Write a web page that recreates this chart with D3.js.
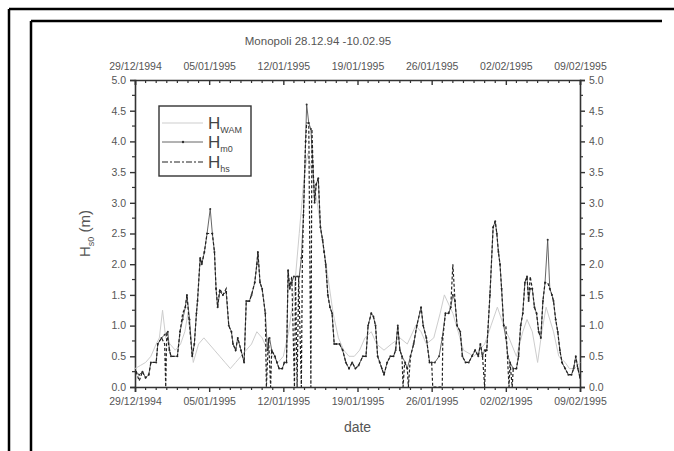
<!DOCTYPE html>
<html>
<head>
<meta charset="utf-8">
<script src="https://cdn.jsdelivr.net/npm/d3@7.9.0/dist/d3.min.js"></script>
<style>
  body { margin: 0; background: #fff; }
  svg { display: block; font-family: "Liberation Sans", Arial, sans-serif; }
</style>
</head>
<body>
<svg id="chart" width="674" height="451"></svg>
<script>
// values: [day since 29/12/1994, Hs in m]
const hm0 = [
  [0.1,0.25],[0.4,0.2],[0.7,0.25],[1.0,0.15],[1.3,0.2],[1.5,0.4],[2.0,0.4],[2.15,0.7],[2.5,0.8],[2.8,0.85],
  [3.1,0.9],[3.25,0.6],[3.4,0.5],[4.0,0.5],[4.25,0.9],[4.5,1.1],[4.75,1.3],[4.9,1.5],[5.15,1.1],[5.4,0.5],
  [5.6,0.7],[5.8,1.2],[5.9,1.4],[6.15,2.1],[6.3,2.0],[6.55,2.2],[6.8,2.5],[7.1,2.9],[7.3,2.5],[7.5,2.2],
  [7.65,1.6],[7.8,1.3],[8.0,1.55],[8.3,1.5],[8.6,1.55],[8.85,1.0],[9.1,0.9],[9.25,0.7],[9.5,0.6],[9.7,0.8],
  [10.0,0.6],[10.3,0.4],[10.5,1.4],[10.8,1.4],[11.0,1.5],[11.3,1.7],[11.5,2.0],[11.6,2.2],[11.8,1.7],[12.0,1.6],
  [12.3,1.2],[12.5,0.6],[12.7,0.8],[12.9,0.6],[13.2,0.5],[13.4,0.4],[13.6,0.3],[13.9,0.3],[14.1,0.4],[14.3,0.4],
  [14.45,1.9],[14.6,1.6],[14.8,1.7],[15.0,1.8],[15.3,1.8],[15.5,1.8],[15.7,2.1],[15.9,2.8],[16.1,4.0],[16.2,4.6],
  [16.4,4.3],[16.6,4.2],[16.8,3.6],[16.95,3.0],[17.1,3.3],[17.3,3.4],[17.5,2.6],[17.7,2.4],[17.85,2.2],[18.0,2.0],
  [18.2,1.5],[18.4,1.3],[18.6,1.2],[18.8,0.7],[19.0,0.7],[19.3,0.7],[19.6,0.6],[19.9,0.4],[20.2,0.3],[20.5,0.4],
  [20.8,0.3],[21.1,0.35],[21.5,0.5],[21.8,0.5],[22.0,1.0],[22.3,1.2],[22.5,1.15],[22.7,1.0],[22.9,0.5],[23.1,0.4],
  [23.3,0.3],[23.5,0.2],[23.8,0.4],[24.1,0.5],[24.4,0.5],[24.6,0.6],[24.8,1.0],[25.0,0.6],[25.2,0.5],[25.5,0.4],
  [25.7,0.3],[26.0,0.5],[26.3,0.7],[26.6,1.0],[27.0,1.3],[27.2,1.0],[27.5,0.8],[27.8,0.4],[28.0,0.4],[28.3,0.4],
  [28.7,0.5],[29.0,0.8],[29.3,1.2],[29.6,1.2],[29.8,1.3],[30.0,1.5],[30.2,1.4],[30.4,1.0],[30.7,0.9],[30.9,0.5],
  [31.2,0.4],[31.5,0.4],[31.8,0.5],[32.1,0.6],[32.4,0.5],[32.6,0.7],[32.8,0.5],[33.0,0.6],[33.2,0.6],[33.5,1.5],
  [33.8,2.6],[34.0,2.7],[34.15,2.5],[34.3,2.2],[34.45,2.0],[34.6,1.6],[34.8,1.0],[35.0,0.8],[35.2,0.5],[35.4,0.4],
  [35.7,0.3],[36.0,0.3],[36.2,0.5],[36.4,1.0],[36.6,1.2],[36.8,1.7],[37.0,1.8],[37.15,1.4],[37.3,1.6],[37.5,1.6],
  [37.7,1.3],[37.9,1.2],[38.1,0.9],[38.3,0.8],[38.5,1.4],[38.7,1.7],[38.95,2.4],[39.15,1.6],[39.35,1.5],[39.5,1.4],
  [39.7,1.1],[39.9,0.9],[40.1,0.6],[40.3,0.4],[40.6,0.3],[40.9,0.2],[41.2,0.2],[41.4,0.3],[41.6,0.5],[41.8,0.3],[42.0,0.15]
];

const hhs = [
  [0.1,0.25],[0.4,0.1],[0.7,0.25],[1.0,0.15],[1.3,0.2],[1.5,0.4],[2.0,0.4],[2.15,0.7],[2.5,0.8],[2.8,0.7],
  [2.9,0.0],[3.0,0.9],[3.25,0.6],[3.4,0.5],[4.0,0.5],[4.25,0.9],[4.5,1.2],[4.75,1.3],[4.9,1.5],[5.15,1.0],[5.4,0.5],
  [5.6,0.7],[5.8,1.2],[5.9,1.4],[6.15,2.1],[6.3,2.0],[6.55,2.2],[6.8,2.5],[7.1,2.5],[7.3,2.5],[7.5,2.2],
  [7.65,1.6],[7.8,1.3],[8.0,1.6],[8.3,1.5],[8.6,1.6],[8.85,1.0],[9.1,0.9],[9.25,0.7],[9.5,0.6],[9.7,0.8],
  [10.0,0.6],[10.3,0.4],[10.5,1.4],[10.8,1.4],[11.0,1.5],[11.3,1.7],[11.5,2.0],[11.6,2.2],[11.8,1.7],[12.0,1.6],
  [12.3,1.2],[12.4,0.0],[12.6,0.8],[12.8,0.0],[12.9,0.6],[13.2,0.5],[13.4,0.4],[13.6,0.3],[13.9,0.3],[14.1,0.4],[14.3,0.4],
  [14.45,1.9],[14.6,1.6],[14.8,1.8],[15.05,0.0],[15.15,1.8],[15.3,0.0],[15.45,1.8],[15.7,0.0],[15.8,2.1],[15.9,2.8],[16.1,4.0],[16.2,4.3],
  [16.4,4.3],[16.6,0.0],[16.7,4.2],[16.8,3.6],[16.95,3.0],[17.1,3.3],[17.3,3.4],[17.5,2.6],[17.7,2.4],[17.85,2.2],[18.0,2.0],
  [18.2,1.5],[18.4,1.3],[18.6,1.2],[18.8,0.7],[19.0,0.7],[19.3,0.7],[19.6,0.6],[19.9,0.4],[20.2,0.3],[20.5,0.4],
  [20.8,0.3],[21.1,0.35],[21.5,0.5],[21.8,0.5],[22.0,1.0],[22.3,1.2],[22.5,1.15],[22.7,1.0],[22.9,0.5],[23.1,0.4],
  [23.3,0.3],[23.5,0.2],[23.8,0.4],[24.1,0.5],[24.4,0.5],[24.6,0.6],[24.8,1.0],[25.0,0.6],[25.2,0.5],[25.3,0.0],[25.45,0.4],
  [25.7,0.3],[25.8,0.0],[26.0,0.5],[26.3,0.7],[26.6,1.0],[27.0,1.3],[27.2,1.0],[27.5,0.8],[27.8,0.4],[28.0,0.4],[28.1,0.0],
  [29.0,0.0],[29.05,0.8],[29.3,1.2],[29.6,1.2],[29.8,1.3],[30.0,2.0],[30.2,1.4],[30.4,1.0],[30.7,0.9],[30.9,0.5],
  [31.2,0.4],[31.5,0.4],[31.8,0.5],[32.1,0.6],[32.4,0.5],[32.6,0.7],[32.8,0.5],[33.0,0.0],[33.1,0.6],[33.2,0.6],[33.5,1.5],
  [33.8,2.6],[34.0,2.7],[34.15,2.5],[34.3,2.2],[34.45,2.0],[34.6,1.6],[34.8,1.0],[35.0,1.0],[35.3,0.0],[35.4,0.4],
  [35.6,0.0],[35.7,0.3],[36.0,0.3],[36.2,0.5],[36.4,1.0],[36.6,1.2],[36.8,1.7],[37.0,1.8],[37.15,1.4],[37.3,1.8],[37.5,1.6],
  [37.7,1.3],[37.9,1.2],[38.1,0.9],[38.3,0.8],[38.5,1.4],[38.7,1.7],[38.95,1.7],[39.15,1.6],[39.35,1.5],[39.5,1.4],
  [39.7,1.1],[39.9,0.9],[40.1,0.6],[40.3,0.4],[40.6,0.3],[40.9,0.2],[41.2,0.2],[41.4,0.3],[41.6,0.5],[41.8,0.3],[42.0,0.15]
];

const hwam = [
  [0.0,0.3],[0.5,0.35],[1.0,0.4],[1.5,0.5],[2.0,0.7],[2.3,0.8],[2.6,1.25],[2.9,0.8],[3.3,0.7],[3.8,0.6],
  [4.3,0.7],[4.7,0.9],[5.0,1.2],[5.5,0.4],[6.0,0.7],[6.5,0.8],[7.0,0.7],[7.5,0.6],[8.0,0.5],[8.5,0.4],
  [9.0,0.3],[9.5,0.4],[10.0,0.5],[10.5,0.6],[11.0,0.7],[11.5,0.9],[12.0,0.8],[12.5,0.6],[13.0,0.5],[13.5,0.4],
  [14.0,0.5],[14.5,0.9],[15.0,1.5],[15.5,2.5],[16.0,3.5],[16.3,3.8],[16.7,3.5],[17.2,3.0],[17.7,2.4],[18.2,1.8],
  [18.7,1.2],[19.2,0.8],[19.7,0.6],[20.2,0.5],[20.7,0.5],[21.2,0.6],[21.7,0.8],[22.3,0.9],[22.8,0.7],[23.5,0.6],
  [24.2,0.7],[25.0,0.8],[25.7,0.7],[26.5,1.0],[27.0,0.9],[27.5,0.7],[28.2,0.8],[28.8,1.2],[29.2,1.5],[30.0,1.2],
  [30.5,0.9],[31.0,0.6],[32.0,0.5],[33.0,0.7],[33.6,1.0],[34.2,1.3],[34.8,1.0],[35.3,0.8],[36.0,0.5],[36.6,0.9],
  [37.0,1.1],[37.5,0.9],[38.0,0.4],[38.4,0.9],[38.8,1.3],[39.5,0.9],[40.0,0.5],[40.6,0.4],[41.0,0.3],[41.5,0.3],[42.0,0.4]
];

const xTickLabels = ['29/12/1994','05/01/1995','12/01/1995','19/01/1995','26/01/1995','02/02/1995','09/02/1995'];
const yTicks = [0, 0.5, 1.0, 1.5, 2.0, 2.5, 3.0, 3.5, 4.0, 4.5, 5.0];
const legendNames = [['H','WAM'], ['H','m0'], ['H','hs']];

const svg = d3.select('#chart');
const W = 674, H = 451;
const mLeft = 135, mRight = 580, mTop = 80, mBottom = 387;
const ink = '#333';

svg.append('rect').attr('width', W).attr('height', H).attr('fill', '#fff');

// page frame lines (table borders)
const frame = svg.append('g').attr('stroke', '#000').attr('stroke-width', 2.5);
frame.append('line').attr('x1', 9).attr('y1', 9).attr('x2', W).attr('y2', 9);
frame.append('line').attr('x1', 9).attr('y1', 9).attr('x2', 9).attr('y2', H);
frame.append('line').attr('x1', 31).attr('y1', 21).attr('x2', 662).attr('y2', 21);
frame.append('line').attr('x1', 31).attr('y1', 21).attr('x2', 31).attr('y2', H);

const parse = d3.timeParse('%d/%m/%Y');
const t0 = parse(xTickLabels[0]);
const t1 = parse(xTickLabels[xTickLabels.length - 1]);
const dayToDate = (d) => new Date(t0.getTime() + d * 864e5);

let x = d3.scaleTime().domain([t0, t1]).range([mLeft, mRight]);
let y = d3.scaleLinear().domain([0, 5]).range([mBottom, mTop]);

const majorDates = xTickLabels.map(parse);
const minorDates = d3.timeDay.range(t0, t1).filter(d => !majorDates.some(m => +m === +d));
const minorY = d3.range(0.25, 5, 0.5);
const fmt = d3.format('.1f');

// axes
let axB = svg.append('g').attr('transform', `translate(0,${mBottom})`)
  .call(d3.axisBottom(x).tickValues(majorDates).tickFormat((d, i) => xTickLabels[i]).tickSize(5).tickPadding(6));
let axT = svg.append('g').attr('transform', `translate(0,${mTop})`)
  .call(d3.axisTop(x).tickValues(majorDates).tickFormat((d, i) => xTickLabels[i]).tickSize(-5).tickPadding(10));
let axL = svg.append('g').attr('transform', `translate(${mLeft},0)`)
  .call(d3.axisLeft(y).tickValues(yTicks).tickFormat(fmt).tickSize(5).tickPadding(4));
let axR = svg.append('g').attr('transform', `translate(${mRight},0)`)
  .call(d3.axisRight(y).tickValues(yTicks).tickFormat(fmt).tickSize(5).tickPadding(4));

[axB, axT, axL, axR].forEach(a => {
  a.select('.domain').attr('stroke', ink).attr('stroke-width', 1.6);
  a.selectAll('.tick line').attr('stroke', ink).attr('stroke-width', 1.4);
  a.selectAll('.tick text').attr('fill', '#555').attr('font-size', 10.5)
    .attr('font-family', '"Liberation Sans", Arial, sans-serif');
});

// minor ticks
const minor = svg.append('g').attr('stroke', ink).attr('stroke-width', 1.2);
minorDates.forEach(d => {
  minor.append('line').attr('x1', x(d)).attr('x2', x(d)).attr('y1', mBottom).attr('y2', mBottom + 3);
  minor.append('line').attr('x1', x(d)).attr('x2', x(d)).attr('y1', mTop).attr('y2', mTop + 3);
});
minorY.forEach(v => {
  minor.append('line').attr('x1', mLeft - 3).attr('x2', mLeft).attr('y1', y(v)).attr('y2', y(v));
  minor.append('line').attr('x1', mRight).attr('x2', mRight + 3).attr('y1', y(v)).attr('y2', y(v));
});

// series
const line = d3.line().x(d => x(dayToDate(d[0]))).y(d => y(d[1]));
const plot = svg.append('g');
plot.append('path').datum(hwam).attr('d', line)
  .attr('fill', 'none').attr('stroke', '#cdcdcd').attr('stroke-width', 1);
plot.append('path').datum(hm0).attr('d', line)
  .attr('fill', 'none').attr('stroke', '#555').attr('stroke-width', 0.9);
plot.selectAll('circle.m0').data(hm0).enter().append('circle')
  .attr('class', 'm0')
  .attr('cx', d => x(dayToDate(d[0]))).attr('cy', d => y(d[1])).attr('r', 1)
  .attr('fill', '#333');
plot.append('path').datum(hhs).attr('d', line)
  .attr('fill', 'none').attr('stroke', '#222').attr('stroke-width', 1.2)
  .attr('stroke-dasharray', '3,2');

// title and axis labels
svg.append('text').attr('x', 318).attr('y', 45).attr('text-anchor', 'middle')
  .attr('font-size', 11.5).attr('fill', '#555').text('Monopoli 28.12.94 -10.02.95');
svg.append('text').attr('x', (mLeft + mRight) / 2).attr('y', 432).attr('text-anchor', 'middle')
  .attr('font-size', 14).attr('fill', '#555').text('date');

const yl = svg.append('text').attr('transform', `translate(90,${(mTop + mBottom) / 2}) rotate(-90)`)
  .attr('text-anchor', 'middle').attr('font-size', 15).attr('fill', '#555');
yl.append('tspan').text('H');
yl.append('tspan').attr('font-size', 9).attr('dy', 4).text('s0');
yl.append('tspan').attr('dy', -4).text(' (m)');

// legend
const lg = svg.append('g');
lg.append('rect').attr('x', 159).attr('y', 106).attr('width', 92).attr('height', 70)
  .attr('fill', '#fff').attr('stroke', ink).attr('stroke-width', 1.4);
const legY = [123, 142, 162];
const legStyles = [
  { stroke: '#cdcdcd', dash: null, w: 1 },
  { stroke: '#555', dash: null, w: 0.9 },
  { stroke: '#222', dash: '6,2,2,2', w: 1.2 }
];
legendNames.forEach((n, i) => {
  lg.append('line').attr('x1', 162).attr('x2', 203).attr('y1', legY[i]).attr('y2', legY[i])
    .attr('stroke', legStyles[i].stroke).attr('stroke-width', legStyles[i].w)
    .attr('stroke-dasharray', legStyles[i].dash);
  if (i === 1) lg.append('circle').attr('cx', 183).attr('cy', legY[i]).attr('r', 1.2).attr('fill', '#333');
  const t = lg.append('text').attr('x', 208).attr('y', legY[i] + 6).attr('fill', '#444').attr('font-size', 17);
  t.append('tspan').text(n[0]);
  t.append('tspan').attr('font-size', 9).attr('dy', 4).text(n[1]);
});
</script>
</body>
</html>
